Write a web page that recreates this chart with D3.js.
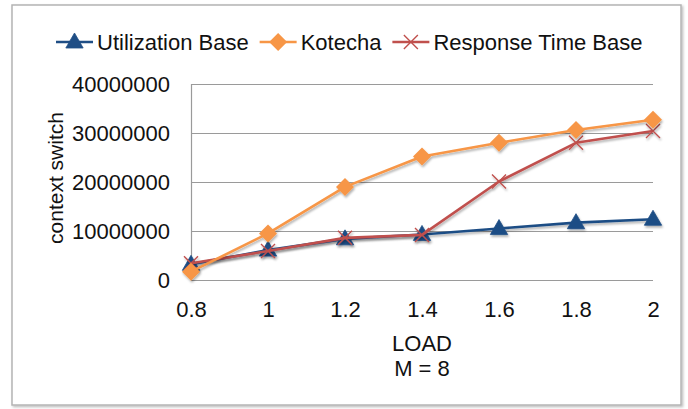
<!DOCTYPE html>
<html><head><meta charset="utf-8">
<script src="https://cdn.jsdelivr.net/npm/d3@7"></script>
<style>
html,body{margin:0;padding:0;background:#fff;}
text{font-family:"Liberation Sans",Arial,Helvetica,sans-serif;fill:#111;}
</style></head>
<body>
<svg id="chart" width="688" height="409"></svg>
<script>
const categories = ["0.8","1","1.2","1.4","1.6","1.8","2"];
const utilizationBase = [3200000, 6100000, 8400000, 9300000, 10500000, 11700000, 12400000];
const kotecha = [1700000, 9500000, 19000000, 25200000, 28000000, 30600000, 32700000];
const responseTimeBase = [3400000, 5900000, 8600000, 9200000, 20100000, 28000000, 30400000];
const yTicks = [0, 10000000, 20000000, 30000000, 40000000];
const seriesNames = ["Utilization Base", "Kotecha", "Response Time Base"];
const seriesColors = ["#1F4E85", "#F79646", "#C0504D"];
const xTitle = "LOAD";
const xSubTitle = "M = 8";
const yTitle = "context switch";

const svg = d3.select("#chart");
const defs = svg.append("defs");
const f = defs.append("filter").attr("id","shadow").attr("x","-50%").attr("y","-50%").attr("width","200%").attr("height","200%");
f.append("feDropShadow").attr("dx",1).attr("dy",2).attr("stdDeviation",1.3).attr("flood-color","#000").attr("flood-opacity",0.3);
const fb = defs.append("filter").attr("id","boxshadow").attr("x","-5%").attr("y","-5%").attr("width","110%").attr("height","110%");
fb.append("feDropShadow").attr("dx",1.5).attr("dy",1.5).attr("stdDeviation",0.8).attr("flood-color","#000").attr("flood-opacity",0.25);

// outer border
svg.append("rect").attr("x",12).attr("y",5).attr("width",669).attr("height",400)
  .attr("fill","#fff").attr("stroke","#b4b4b4").attr("stroke-width",1.5).attr("filter","url(#boxshadow)");

const x = d3.scalePoint().domain(categories).range([191, 653]);
const y = d3.scaleLinear().domain([0, 40000000]).range([280, 84]);

// gridlines
const yAxis = d3.axisLeft(y).tickValues(yTicks).tickSize(-(653-191)).tickPadding(21).tickFormat(d3.format("d"));
const gy = svg.append("g").attr("transform","translate(191,0)").call(yAxis);
gy.select(".domain").attr("stroke","#9a9a9a").attr("stroke-width",1.2);
gy.selectAll(".tick line").attr("stroke","#9a9a9a").attr("stroke-width",1.2);
gy.selectAll(".tick text").attr("font-size",22).attr("font-family","Liberation Sans, Arial, sans-serif").attr("fill","#111");

const xAxis = d3.axisBottom(x).tickSize(0).tickPadding(21);
const gx = svg.append("g").attr("transform","translate(0,280)").call(xAxis);
gx.select(".domain").remove();
gx.selectAll(".tick text").attr("font-size",22).attr("font-family","Liberation Sans, Arial, sans-serif").attr("fill","#111");

// axis titles
svg.append("text").attr("x",422).attr("y",351).attr("text-anchor","middle").attr("font-size",22).text(xTitle);
svg.append("text").attr("x",422).attr("y",376).attr("text-anchor","middle").attr("font-size",22).text(xSubTitle);
svg.append("text").attr("transform","translate(63,178) rotate(-90)").attr("text-anchor","middle").attr("font-size",21).text(yTitle);

// markers
function drawMarker(g, type, color, cx, cy){
  if(type==="tri"){
    g.append("path").attr("d", d3.symbol().type(d3.symbolTriangle).size(130)())
      .attr("transform",`translate(${cx},${cy+1})`).attr("fill",color).attr("stroke",color).attr("stroke-width",0.8);
  } else if(type==="dia"){
    g.append("path").attr("d",`M0,-9L9,0L0,9L-9,0Z`).attr("transform",`translate(${cx},${cy})`).attr("fill",color);
  } else {
    g.append("path").attr("d",`M-7,-7L7,7M-7,7L7,-7`).attr("transform",`translate(${cx},${cy})`)
      .attr("stroke",color).attr("stroke-width",1.4).attr("fill","none");
  }
}
const data = [
  {name:seriesNames[0], values:utilizationBase, color:seriesColors[0], marker:"tri"},
  {name:seriesNames[1], values:kotecha, color:seriesColors[1], marker:"dia"},
  {name:seriesNames[2], values:responseTimeBase, color:seriesColors[2], marker:"x"}
];
const drawOrder = [0,2,1];
const line = d3.line().x((d,i)=>x(categories[i])).y(d=>y(d));
drawOrder.forEach(k=>{
  const s = data[k];
  const g = svg.append("g").attr("filter","url(#shadow)");
  g.append("path").datum(s.values).attr("d",line).attr("fill","none").attr("stroke",s.color).attr("stroke-width",2.6).attr("stroke-linejoin","round");
  s.values.forEach((v,i)=>drawMarker(g, s.marker, s.color, x(categories[i]), y(v)));
});

// legend
const legend = svg.append("g");
const ly = 42;
let cur = 56;
data.forEach((s,i)=>{
  const g = legend.append("g");
  g.append("line").attr("x1",cur).attr("x2",cur+37).attr("y1",ly).attr("y2",ly).attr("stroke",s.color).attr("stroke-width",2.6);
  drawMarker(g, s.marker, s.color, cur+18.5, ly);
  const t = g.append("text").attr("x",cur+41).attr("y",ly+8).attr("font-size",22).text(s.name);
  const w = t.node().getComputedTextLength();
  cur = cur + 41 + w + 11;
});
</script>
</body></html>
